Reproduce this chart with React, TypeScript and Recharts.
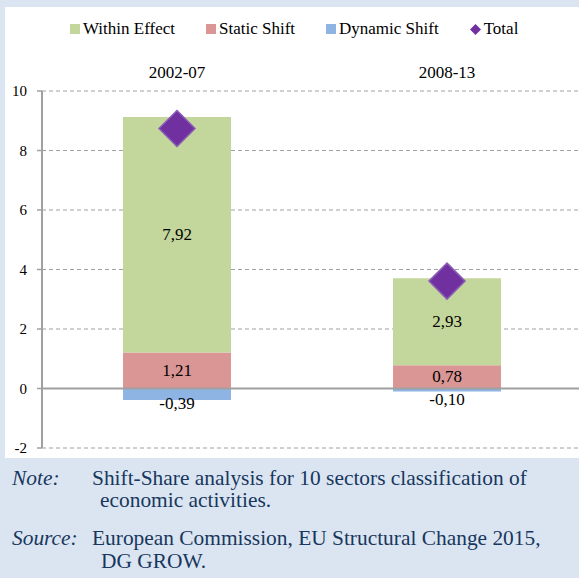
import React from 'react';
import {
  ComposedChart,
  Bar,
  Line,
  XAxis,
  YAxis,
  CartesianGrid,
  ReferenceLine,
  Legend,
  LabelList,
} from 'recharts';

const categories = ['2002-07', '2008-13'];
const withinEffect = [7.92, 2.93];
const staticShift = [1.21, 0.78];
const dynamicShift = [-0.39, -0.1];
const totalValues = [8.74, 3.61];
const yTicks = [-2, 0, 2, 4, 6, 8, 10];

const seriesNames = ['Within Effect', 'Static Shift', 'Dynamic Shift', 'Total'];
const noteText = 'Shift-Share analysis for 10 sectors classification of';
const noteText2 = 'economic activities.';
const sourceText = 'European Commission, EU Structural Change 2015,';
const sourceText2 = 'DG GROW.';

const data = categories.map((c, i) => ({
  category: c,
  within: withinEffect[i],
  stat: staticShift[i],
  dyn: dynamicShift[i],
  total: totalValues[i],
}));

const FONT = '"Liberation Serif", "Times New Roman", serif';
const GREEN = '#c3d69b';
const RED = '#d99694';
const BLUE = '#8eb4e3';
const PURPLE = '#7030a0';
const GRAY = '#a0a0a0';
const NAVY = '#17375e';

const fmt = (v: any) => Number(v).toFixed(2).replace('.', ',');

const getBox = (p: any) => {
  const vb = p.viewBox || {};
  const x = vb.x ?? p.x;
  const y = vb.y ?? p.y;
  const width = vb.width ?? p.width;
  const height = vb.height ?? p.height;
  return { x, y, width, height };
};

const CenterLabel = (p: any) => {
  const { x, y, width, height } = getBox(p);
  return (
    <text
      x={x + width / 2}
      y={y + height / 2}
      textAnchor="middle"
      dominantBaseline="central"
      fontSize={17}
      fontFamily={FONT}
      fill="#000"
    >
      {fmt(p.value)}
    </text>
  );
};

const BelowLabel = (p: any) => {
  const { x, y, width, height } = getBox(p);
  return (
    <text
      x={x + width / 2}
      y={y + height / 2 + 9.5}
      textAnchor="middle"
      dominantBaseline="central"
      fontSize={17}
      fontFamily={FONT}
      fill="#000"
    >
      {fmt(p.value)}
    </text>
  );
};

const Diamond = (p: any) => {
  const { cx, cy, index } = p;
  if (cx == null || cy == null) return <g key={`d${index}`} />;
  const r = 18;
  return (
    <polygon
      key={`d${index}`}
      points={`${cx},${cy - r} ${cx + r},${cy} ${cx},${cy + r} ${cx - r},${cy}`}
      fill={PURPLE}
      stroke="#8a5cb8"
      strokeWidth={1.5}
    />
  );
};

const legendColors = [GREEN, RED, BLUE, PURPLE];

const LegendContent = () => (
  <div
    style={{
      display: 'flex',
      alignItems: 'center',
      marginLeft: 70,
      fontFamily: FONT,
      fontSize: 17,
      lineHeight: '20px',
      color: '#000',
      whiteSpace: 'nowrap',
    }}
  >
    {seriesNames.map((name, i) => (
      <div key={name} style={{ display: 'flex', alignItems: 'center', marginRight: 31 }}>
        {i < 3 ? (
          <span style={{ display: 'inline-block', width: 10, height: 10, background: legendColors[i], marginRight: 3 }} />
        ) : (
          <svg width={11} height={11} style={{ marginRight: 3 }}>
            <polygon points="5.5,0 11,5.5 5.5,11 0,5.5" fill={PURPLE} />
          </svg>
        )}
        <span>{name}</span>
      </div>
    ))}
  </div>
);

const noteStyle = {
  position: 'absolute' as const,
  fontSize: 21.4,
  lineHeight: '22px',
  color: NAVY,
  whiteSpace: 'nowrap' as const,
};

export default function App() {
  return (
    <div
      style={{
        position: 'absolute',
        left: 0,
        top: 0,
        width: 579,
        height: 578,
        background: '#dbe5f1',
        overflow: 'hidden',
        fontFamily: FONT,
      }}
    >
      <div style={{ position: 'absolute', left: 5, top: 7, width: 574, height: 451, background: '#ffffff' }} />
      <div style={{ position: 'absolute', left: 0, top: 0 }}>
        <ComposedChart
          width={600}
          height={470}
          data={data}
          stackOffset="sign"
          barCategoryGap="30%"
          margin={{ top: 51, right: 18, bottom: 22, left: 0 }}
        >
          <CartesianGrid vertical={false} stroke={GRAY} strokeDasharray="4 3" />
          <XAxis
            dataKey="category"
            orientation="top"
            height={40}
            axisLine={false}
            tickLine={false}
            tickSize={6}
            tickMargin={7}
            tick={{ fontSize: 17, fontFamily: FONT, fill: '#000' }}
          />
          <XAxis xAxisId="n" type="number" domain={[0, 2]} hide />
          <YAxis
            width={42}
            domain={[-2, 10]}
            ticks={yTicks}
            interval={0}
            tickSize={5}
            tickMargin={10}
            axisLine={{ stroke: GRAY, strokeWidth: 2 }}
            tickLine={{ stroke: GRAY, strokeWidth: 1.5 }}
            tick={{ fontSize: 15, fontFamily: FONT, fill: '#000' }}
          />
          <Legend verticalAlign="middle" wrapperStyle={{ top: 19, left: 0, width: 600 }} content={LegendContent} />
          <Bar dataKey="stat" name="Static Shift" stackId="a" fill={RED} isAnimationActive={false}>
            <LabelList dataKey="stat" content={CenterLabel} />
          </Bar>
          <Bar dataKey="within" name="Within Effect" stackId="a" fill={GREEN} isAnimationActive={false}>
            <LabelList dataKey="within" content={CenterLabel} />
          </Bar>
          <Bar dataKey="dyn" name="Dynamic Shift" stackId="a" fill={BLUE} isAnimationActive={false}>
            <LabelList dataKey="dyn" content={BelowLabel} />
          </Bar>
          <ReferenceLine y={0} stroke={GRAY} strokeWidth={2} />
          <ReferenceLine
            xAxisId="n"
            segment={[
              { x: 1, y: 0 },
              { x: 1, y: -0.15 },
            ]}
            stroke={GRAY}
            strokeWidth={2}
          />
          <Line
            dataKey="total"
            name="Total"
            stroke="none"
            strokeWidth={0}
            dot={Diamond}
            activeDot={false}
            isAnimationActive={false}
          />
        </ComposedChart>
      </div>
      <div style={{ ...noteStyle, left: 12, top: 467, fontStyle: 'italic' }}>Note:</div>
      <div style={{ ...noteStyle, left: 92, top: 467 }}>{noteText}</div>
      <div style={{ ...noteStyle, left: 100, top: 489 }}>{noteText2}</div>
      <div style={{ ...noteStyle, left: 12, top: 527, fontStyle: 'italic' }}>Source:</div>
      <div style={{ ...noteStyle, left: 92, top: 527 }}>{sourceText}</div>
      <div style={{ ...noteStyle, left: 101, top: 550 }}>{sourceText2}</div>
    </div>
  );
}
